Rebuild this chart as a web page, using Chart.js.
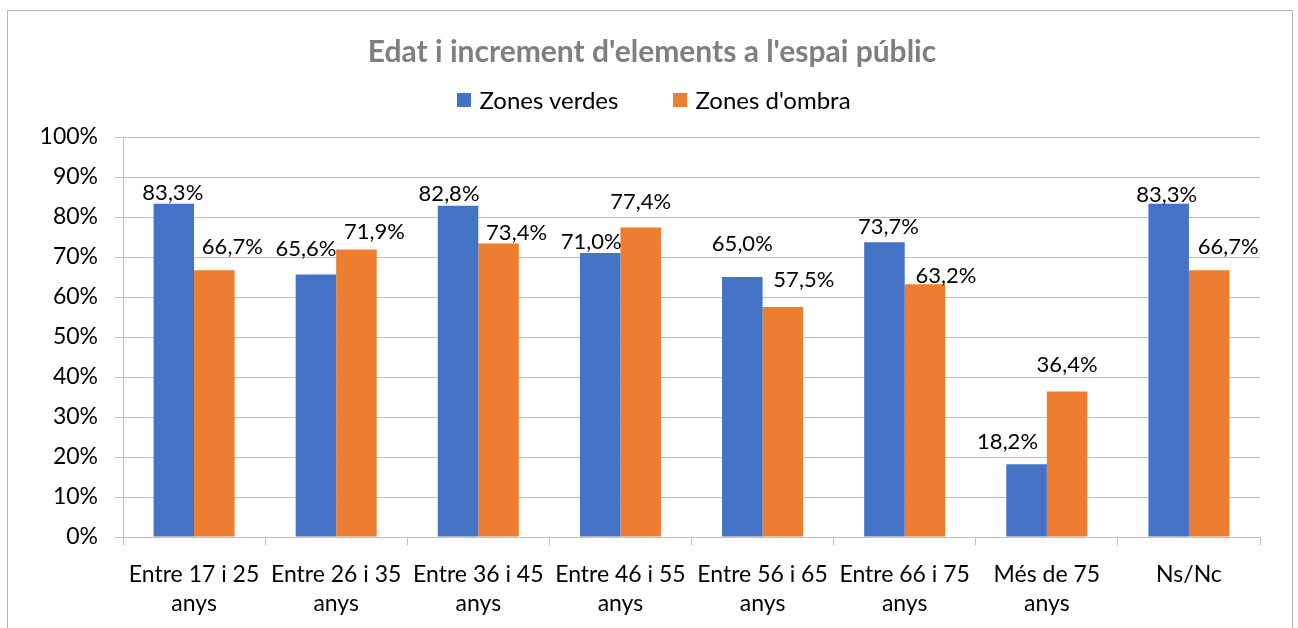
<!DOCTYPE html>
<html><head><meta charset="utf-8">
<script src="https://cdn.jsdelivr.net/npm/chart.js@4.4.1/dist/chart.umd.min.js"></script>
<style>
html,body{margin:0;padding:0;background:#fff;width:1298px;height:628px;overflow:hidden;font-family:Lato,sans-serif;}
#frame{position:absolute;left:7px;top:10px;width:1286px;height:700px;border:1px solid #b4b4b4;box-sizing:border-box;}
#cv{position:absolute;left:0;top:0;}
#title{position:absolute;left:7px;width:1290px;top:32px;text-align:center;font-weight:bold;font-size:30px;line-height:36px;color:#7f7f7f;z-index:2;}
#legend{position:absolute;left:7px;width:1294px;top:82px;text-align:center;font-size:24px;line-height:30px;color:#000;z-index:2;}
.item{display:inline-flex;align-items:center;vertical-align:middle;}
.item + .item{margin-left:55px;}
.sw{width:14px;height:14px;display:inline-block;margin-right:8px;}
</style></head>
<body>
<div id="frame"></div>
<div id="title">Edat i increment d'elements a l'espai públic</div>
<div id="legend"></div>
<canvas id="cv" width="1298" height="628"></canvas>
<script>
// ---- data ----
const categories = [
  ["Entre 17 i 25", "anys"],
  ["Entre 26 i 35", "anys"],
  ["Entre 36 i 45", "anys"],
  ["Entre 46 i 55", "anys"],
  ["Entre 56 i 65", "anys"],
  ["Entre 66 i 75", "anys"],
  ["Més de 75", "anys"],
  ["Ns/Nc"]
];
const seriesNames = ["Zones verdes", "Zones d'ombra"];
const zonesVerdes = [83.3, 65.6, 82.8, 71.0, 65.0, 73.7, 18.2, 83.3];
const zonesOmbra  = [66.7, 71.9, 73.4, 77.4, 57.5, 63.2, 36.4, 66.7];
const yTickStep = 10;
const yMax = 100;

// ---- style ----
const colors = ["#4472C4", "#ED7D31"];
const gridColor = "#bfbfbf";
const fontFamily = "Lato, 'Open Sans', sans-serif";
// label nudges relative to bar top (dx in px, rise above bar top in px), as placed in the original
const labelDx   = [[-1, -10, -9, -9, 0, 4, -19, -2], [18, 18, 18, 0, 21, 21, 0, 19]];
const labelRise = [[11, 26, 12, 11, 33, 15, 22, 9], [23, 17, 10, 25, 27, 8, 26, 23]];

// legend (HTML text)
const lg = document.getElementById('legend');
seriesNames.forEach((n, i) => {
  const it = document.createElement('span'); it.className = 'item';
  const sw = document.createElement('span'); sw.className = 'sw'; sw.style.background = colors[i];
  const tx = document.createElement('span'); tx.textContent = n;
  it.appendChild(sw); it.appendChild(tx); lg.appendChild(it);
});

const fmt = v => v.toFixed(1).replace('.', ',') + '%';

const valueLabels = {
  id: 'valueLabels',
  afterDatasetsDraw(chart) {
    const ctx = chart.ctx;
    ctx.save();
    ctx.font = "22px " + fontFamily;
    ctx.fillStyle = "#000";
    ctx.textAlign = "center";
    ctx.textBaseline = "middle";
    chart.data.datasets.forEach((ds, i) => {
      chart.getDatasetMeta(i).data.forEach((bar, j) => {
        ctx.fillText(fmt(ds.data[j]), bar.x + labelDx[i][j], bar.y - labelRise[i][j]);
      });
    });
    ctx.restore();
  }
};

new Chart(document.getElementById('cv'), {
  type: 'bar',
  data: {
    labels: categories,
    datasets: [
      { label: seriesNames[0], data: zonesVerdes, backgroundColor: colors[0], barPercentage: 1, categoryPercentage: 0.57 },
      { label: seriesNames[1], data: zonesOmbra,  backgroundColor: colors[1], barPercentage: 1, categoryPercentage: 0.57 }
    ]
  },
  options: {
    responsive: false,
    animation: false,
    layout: { padding: { top: 137, left: 0, right: 38, bottom: 0 } },
    plugins: { legend: { display: false }, title: { display: false }, tooltip: { enabled: false } },
    scales: {
      x: {
        grid: { display: true, drawOnChartArea: false, drawTicks: true, tickLength: 8, color: gridColor, offset: true },
        border: { display: true, color: gridColor, width: 1 },
        ticks: { font: { family: fontFamily, size: 23, lineHeight: 1.27 }, color: "#000", padding: 15, maxRotation: 0, autoSkip: false },
        afterFit(s) { s.height = 91; }
      },
      y: {
        min: 0, max: yMax,
        grid: { color: gridColor, tickLength: 8, drawTicks: true },
        border: { display: true, color: gridColor, width: 1 },
        ticks: { stepSize: yTickStep, callback: v => v + '%', font: { family: fontFamily, size: 23 }, color: "#000", padding: 17 },
        afterFit(s) { s.width = 123; }
      }
    }
  },
  plugins: [valueLabels]
});
</script>
</body></html>
